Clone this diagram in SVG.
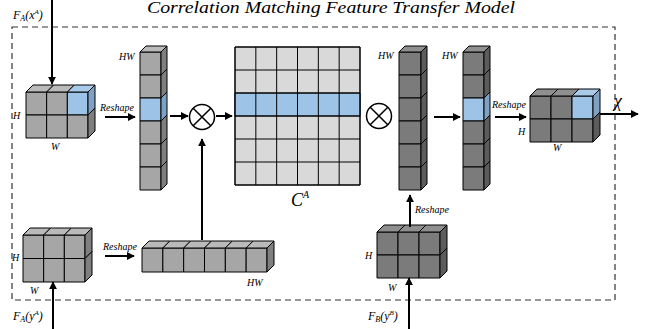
<svg xmlns="http://www.w3.org/2000/svg" width="645" height="329" viewBox="0 0 645 329">
<defs>
<style>
.t{font-family:"Liberation Serif",serif;font-style:italic;fill:#000}
.s{font-size:10px}
.e{stroke:#000;stroke-width:1;stroke-linejoin:round}
.lf{fill:#a6a6a6}.lt{fill:#bababa}.ls{fill:#7f7f7f}
.df{fill:#7b7b7b}.dt{fill:#8f8f8f}.ds{fill:#5c5c5c}
.bf{fill:#9dc3e6}.bt{fill:#a9cbea}.bs{fill:#7fa2c4}
.mc{fill:#d9d9d9}
.ar{stroke:#000;stroke-width:2;fill:none}
</style>
<marker id="ah" viewBox="0 0 10 10" refX="9" refY="5" markerWidth="4" markerHeight="4" orient="auto" markerUnits="strokeWidth">
<path d="M0,0 L10,5 L0,10 z" fill="#000"/>
</marker>
</defs>
<rect width="645" height="329" fill="#fff"/>
<rect x="12" y="27" width="603" height="273" fill="none" stroke="#333" stroke-width="1.2" stroke-dasharray="6,4"/>
<text class="t" x="147" y="13" font-size="16" textLength="368" lengthAdjust="spacingAndGlyphs">Correlation Matching  Feature Transfer Model</text>

<!-- Block A: top-left input -->
<g id="blockA" class="e">
<rect class="lf" x="26" y="92" width="20.67" height="23"/>
<rect class="lf" x="46.67" y="92" width="20.67" height="23"/>
<rect class="bf" x="67.33" y="92" width="20.67" height="23"/>
<rect class="lf" x="26" y="115" width="20.67" height="23"/>
<rect class="lf" x="46.67" y="115" width="20.67" height="23"/>
<rect class="lf" x="67.33" y="115" width="20.67" height="23"/>
<polygon class="lt" points="26,92 33,85 53.67,85 46.67,92"/>
<polygon class="lt" points="46.67,92 53.67,85 74.33,85 67.33,92"/>
<polygon class="bt" points="67.33,92 74.33,85 95,85 88,92"/>
<polygon class="bs" points="88,92 95,85 95,108 88,115"/>
<polygon class="ls" points="88,115 95,108 95,131 88,138"/>
</g>
<g id="labelsA">
<text class="t s" x="13" y="119">H</text>
<text class="t s" x="51" y="150">W</text>
<text class="t" x="13" y="19" font-size="12">F<tspan font-size="8" dy="2">A</tspan><tspan dy="-2">(x</tspan><tspan font-size="7" dy="-5">A</tspan><tspan dy="5">)</tspan></text>
</g>

<!-- Column 1 -->
<g id="col1" class="e">
<rect class="lf" x="140" y="52" width="21" height="23"/>
<rect class="lf" x="140" y="75" width="21" height="23"/>
<rect class="bf" x="140" y="98" width="21" height="23"/>
<rect class="lf" x="140" y="121" width="21" height="23"/>
<rect class="lf" x="140" y="144" width="21" height="23"/>
<rect class="lf" x="140" y="167" width="21" height="23"/>
<polygon class="lt" points="140,52 146,46 167,46 161,52"/>
<polygon class="ls" points="161,52 167,46 167,69 161,75"/>
<polygon class="ls" points="161,75 167,69 167,92 161,98"/>
<polygon class="bs" points="161,98 167,92 167,115 161,121"/>
<polygon class="ls" points="161,121 167,115 167,138 161,144"/>
<polygon class="ls" points="161,144 167,138 167,161 161,167"/>
<polygon class="ls" points="161,167 167,161 167,184 161,190"/>
</g>
<text class="t s" x="119" y="60">HW</text>

<!-- Multiply 1 -->
<g id="mul1">
<circle cx="202" cy="117" r="12.5" fill="#fff" stroke="#000" stroke-width="1.5"/>
<path d="M193.2,108.2 L210.8,125.8 M210.8,108.2 L193.2,125.8" stroke="#000" stroke-width="1.5"/>
</g>

<!-- Matrix C^A -->
<g id="matrix" class="e">
<rect class="mc" x="235" y="47" width="125" height="138"/>
<rect class="bf" x="235" y="93" width="125" height="23"/>
<path d="M255.83,47V185M276.67,47V185M297.5,47V185M318.33,47V185M339.17,47V185M235,70H360M235,93H360M235,116H360M235,139H360M235,162H360" fill="none"/>
<rect x="235" y="47" width="125" height="138" fill="none"/>
</g>
<text class="t" x="291" y="206" font-size="18">C<tspan font-size="10" dy="-8">A</tspan></text>

<!-- Multiply 2 -->
<g id="mul2">
<circle cx="379" cy="116" r="12.5" fill="#fff" stroke="#000" stroke-width="1.5"/>
<path d="M370.2,107.2 L387.8,124.8 M387.8,107.2 L370.2,124.8" stroke="#000" stroke-width="1.5"/>
</g>

<!-- Column 2 (dark) -->
<g id="col2" class="e">
<rect class="df" x="399" y="52" width="22" height="23"/>
<rect class="df" x="399" y="75" width="22" height="23"/>
<rect class="df" x="399" y="98" width="22" height="23"/>
<rect class="df" x="399" y="121" width="22" height="23"/>
<rect class="df" x="399" y="144" width="22" height="23"/>
<rect class="df" x="399" y="167" width="22" height="23"/>
<polygon class="dt" points="399,52 405,46 427,46 421,52"/>
<polygon class="ds" points="421,52 427,46 427,69 421,75"/>
<polygon class="ds" points="421,75 427,69 427,92 421,98"/>
<polygon class="ds" points="421,98 427,92 427,115 421,121"/>
<polygon class="ds" points="421,121 427,115 427,138 421,144"/>
<polygon class="ds" points="421,144 427,138 427,161 421,167"/>
<polygon class="ds" points="421,167 427,161 427,184 421,190"/>
</g>
<text class="t s" x="378" y="59">HW</text>

<!-- Column 3 (dark, blue row) -->
<g id="col3" class="e">
<rect class="df" x="463" y="52" width="21" height="23"/>
<rect class="df" x="463" y="75" width="21" height="23"/>
<rect class="bf" x="463" y="98" width="21" height="23"/>
<rect class="df" x="463" y="121" width="21" height="23"/>
<rect class="df" x="463" y="144" width="21" height="23"/>
<rect class="df" x="463" y="167" width="21" height="23"/>
<polygon class="dt" points="463,52 469,46 490,46 484,52"/>
<polygon class="ds" points="484,52 490,46 490,69 484,75"/>
<polygon class="ds" points="484,75 490,69 490,92 484,98"/>
<polygon class="bs" points="484,98 490,92 490,115 484,121"/>
<polygon class="ds" points="484,121 490,115 490,138 484,144"/>
<polygon class="ds" points="484,144 490,138 490,161 484,167"/>
<polygon class="ds" points="484,167 490,161 490,184 484,190"/>
</g>
<text class="t s" x="442" y="59">HW</text>

<!-- Block C: output -->
<g id="blockC" class="e">
<rect class="df" x="530" y="96" width="21" height="23"/>
<rect class="df" x="551" y="96" width="21" height="23"/>
<rect class="bf" x="572" y="96" width="21" height="23"/>
<rect class="df" x="530" y="119" width="21" height="23"/>
<rect class="df" x="551" y="119" width="21" height="23"/>
<rect class="df" x="572" y="119" width="21" height="23"/>
<polygon class="dt" points="530,96 537,89 558,89 551,96"/>
<polygon class="dt" points="551,96 558,89 579,89 572,96"/>
<polygon class="bt" points="572,96 579,89 600,89 593,96"/>
<polygon class="bs" points="593,96 600,89 600,112 593,119"/>
<polygon class="ds" points="593,119 600,112 600,135 593,142"/>
</g>
<text class="t s" x="518" y="135">H</text>
<text class="t s" x="553" y="151">W</text>
<text class="t" x="614" y="107" font-size="18">χ</text>

<!-- Block B: bottom-left -->
<g id="blockB" class="e">
<rect class="lf" x="23" y="235" width="20.67" height="23.5"/>
<rect class="lf" x="43.67" y="235" width="20.67" height="23.5"/>
<rect class="lf" x="64.33" y="235" width="20.67" height="23.5"/>
<rect class="lf" x="23" y="258.5" width="20.67" height="23.5"/>
<rect class="lf" x="43.67" y="258.5" width="20.67" height="23.5"/>
<rect class="lf" x="64.33" y="258.5" width="20.67" height="23.5"/>
<polygon class="lt" points="23,235 30,228 50.67,228 43.67,235"/>
<polygon class="lt" points="43.67,235 50.67,228 71.33,228 64.33,235"/>
<polygon class="lt" points="64.33,235 71.33,228 92,228 85,235"/>
<polygon class="ls" points="85,235 92,228 92,251.5 85,258.5"/>
<polygon class="ls" points="85,258.5 92,251.5 92,275 85,282"/>
</g>
<text class="t s" x="12" y="261">H</text>
<text class="t s" x="30" y="294">W</text>
<text class="t" x="13" y="320" font-size="12">F<tspan font-size="8" dy="2">A</tspan><tspan dy="-2">(y</tspan><tspan font-size="7" dy="-5">A</tspan><tspan dy="5">)</tspan></text>

<!-- Horizontal bar HW -->
<g id="bar" class="e">
<rect class="lf" x="142" y="248" width="20.83" height="24"/>
<rect class="lf" x="162.83" y="248" width="20.83" height="24"/>
<rect class="lf" x="183.67" y="248" width="20.83" height="24"/>
<rect class="lf" x="204.5" y="248" width="20.83" height="24"/>
<rect class="lf" x="225.33" y="248" width="20.83" height="24"/>
<rect class="lf" x="246.17" y="248" width="20.83" height="24"/>
<polygon class="lt" points="142,248 149,241 169.83,241 162.83,248"/>
<polygon class="lt" points="162.83,248 169.83,241 190.67,241 183.67,248"/>
<polygon class="lt" points="183.67,248 190.67,241 211.5,241 204.5,248"/>
<polygon class="lt" points="204.5,248 211.5,241 232.33,241 225.33,248"/>
<polygon class="lt" points="225.33,248 232.33,241 253.17,241 246.17,248"/>
<polygon class="lt" points="246.17,248 253.17,241 274,241 267,248"/>
<polygon class="ls" points="267,248 274,241 274,265 267,272"/>
</g>
<text class="t s" x="247" y="286">HW</text>

<!-- Block D: bottom-right -->
<g id="blockD" class="e">
<rect class="df" x="377" y="232" width="21" height="23"/>
<rect class="df" x="398" y="232" width="21" height="23"/>
<rect class="df" x="419" y="232" width="21" height="23"/>
<rect class="df" x="377" y="255" width="21" height="23"/>
<rect class="df" x="398" y="255" width="21" height="23"/>
<rect class="df" x="419" y="255" width="21" height="23"/>
<polygon class="dt" points="377,232 384,225 405,225 398,232"/>
<polygon class="dt" points="398,232 405,225 426,225 419,232"/>
<polygon class="dt" points="419,232 426,225 447,225 440,232"/>
<polygon class="ds" points="440,232 447,225 447,248 440,255"/>
<polygon class="ds" points="440,255 447,248 447,271 440,278"/>
</g>
<text class="t s" x="365" y="259">H</text>
<text class="t s" x="388" y="291">W</text>
<text class="t" x="368" y="320" font-size="12">F<tspan font-size="8" dy="2">B</tspan><tspan dy="-2">(y</tspan><tspan font-size="7" dy="-5">B</tspan><tspan dy="5">)</tspan></text>

<!-- Reshape labels -->
<g id="reshapeLabels">
<text class="t s" x="100" y="111">Reshape</text>
<text class="t s" x="103" y="250">Reshape</text>
<text class="t s" x="415" y="213">Reshape</text>
<text class="t s" x="492" y="108">Reshape</text>
</g>

<!-- Connectors -->
<g id="connectors" class="ar">
<line x1="52" y1="0" x2="52" y2="84" marker-end="url(#ah)"/>
<line x1="105" y1="117" x2="135" y2="117" marker-end="url(#ah)"/>
<line x1="170" y1="116" x2="188" y2="116" marker-end="url(#ah)"/>
<line x1="216" y1="116" x2="232" y2="116" marker-end="url(#ah)"/>
<line x1="202" y1="240" x2="202" y2="139" marker-end="url(#ah)"/>
<line x1="434" y1="117" x2="460" y2="117" marker-end="url(#ah)"/>
<line x1="495" y1="117" x2="526" y2="117" marker-end="url(#ah)"/>
<line x1="600" y1="114" x2="638" y2="114" marker-end="url(#ah)"/>
<line x1="105" y1="256" x2="134" y2="256" marker-end="url(#ah)"/>
<line x1="53" y1="329" x2="53" y2="282" marker-end="url(#ah)"/>
<line x1="409" y1="329" x2="409" y2="278" marker-end="url(#ah)"/>
<line x1="410" y1="227" x2="410" y2="195" marker-end="url(#ah)"/>
</g>
</svg>
